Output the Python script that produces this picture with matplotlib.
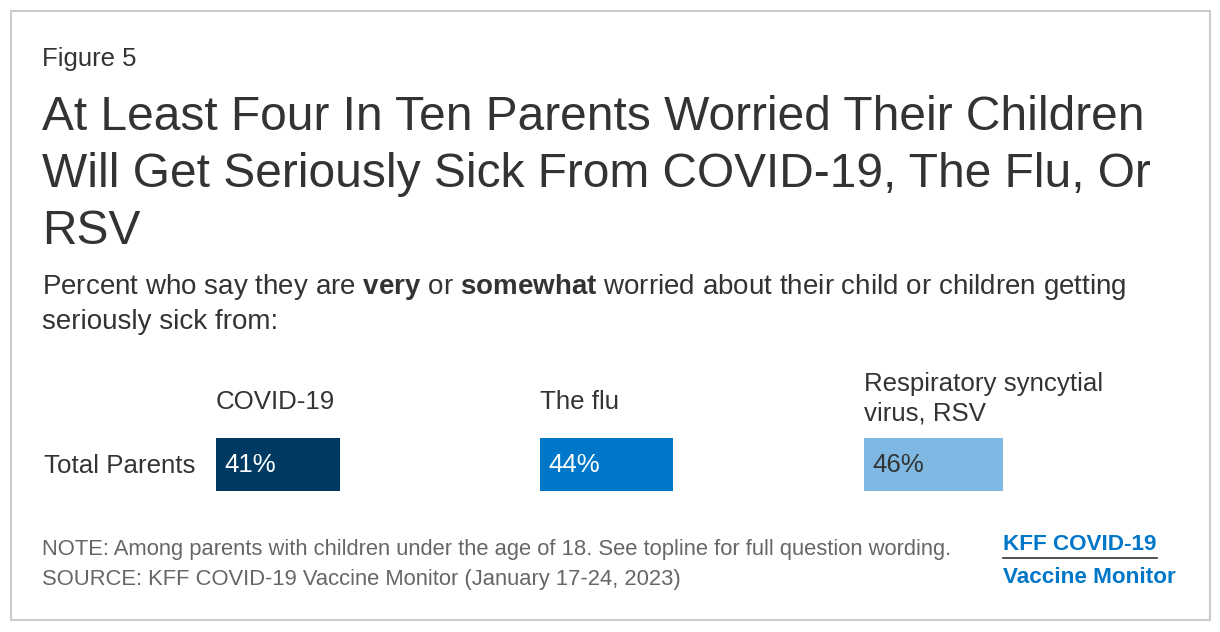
"""
KFF Figure 5: parents worried about children getting seriously sick
"""
import matplotlib
matplotlib.use('Agg')
import matplotlib.pyplot as plt
from matplotlib.patches import Rectangle

plt.rcParams['font.family'] = ['Liberation Sans', 'DejaVu Sans']
plt.rcParams['mathtext.fontset'] = 'custom'
plt.rcParams['mathtext.rm'] = 'Liberation Sans'
plt.rcParams['mathtext.bf'] = 'Liberation Sans:bold'

# 数据
categories = ["COVID-19", "The flu", "Respiratory syncytial\nvirus, RSV"]
values = [41, 44, 46]
row_label = "Total Parents"
bar_colors = ["#003A63", "#0077C8", "#7FB9E3"]
label_colors = ["white", "white", "#333333"]

W, H = 1220, 632
fig = plt.figure(figsize=(W / 100, H / 100), dpi=100)
fig.patch.set_facecolor("white")


def px(x, y):
    return x / W, 1 - y / H


def txt(x, y, s, **kw):
    fx, fy = px(x, y)
    kw.setdefault("va", "baseline")
    kw.setdefault("color", "#333333")
    return fig.text(fx, fy, s, **kw)


# 外框
fig.add_artist(Rectangle(px(11, 620), 1199 / W, 609 / H, transform=fig.transFigure,
                         fill=False, edgecolor="#cccccc", linewidth=1.5))

txt(42, 66, "Figure 5", fontsize=18.5)
title_lines = ["At Least Four In Ten Parents Worried Their Children",
               "Will Get Seriously Sick From COVID-19, The Flu, Or",
               "RSV"]
for i, line in enumerate(title_lines):
    txt(42, 130 + i * 57, line, fontsize=34.5)

txt(42, 294, r"Percent who say they are $\mathbf{very}$ or $\mathbf{somewhat}$ worried about their child or children getting",
    fontsize=20)
txt(42, 329, "seriously sick from:", fontsize=20)

# 条形
panel_x = [216, 540, 864]
bar_top, bar_bot = 438, 491
scale_px = 303  # 100% 对应像素
txt(44, 473, row_label, fontsize=18.6)

for i, (cat, val) in enumerate(zip(categories, values)):
    left, bottom = px(panel_x[i], bar_bot)
    ax = fig.add_axes([left, bottom, scale_px / W, (bar_bot - bar_top) / H])
    ax.barh([0], [val], height=1.0, left=0, color=bar_colors[i])
    ax.set_xlim(0, 100)
    ax.set_ylim(-0.5, 0.5)
    ax.axis("off")
    ax.text(2.7, 0, f"{val}%", color=label_colors[i], fontsize=18.6,
            va="center", ha="left")
    lines = cat.split("\n")
    if len(lines) == 1:
        txt(panel_x[i], 409, lines[0], fontsize=18.6)
    else:
        txt(panel_x[i], 391, lines[0], fontsize=18.6)
        txt(panel_x[i], 421, lines[1], fontsize=18.6)

# 注释
txt(42, 555, "NOTE: Among parents with children under the age of 18. See topline for full question wording.",
    fontsize=15.8, color="#666666")
txt(42, 585, "SOURCE: KFF COVID-19 Vaccine Monitor (January 17-24, 2023)",
    fontsize=15.8, color="#666666")

# 标志
txt(1003, 550, "KFF COVID-19", fontsize=16.2, fontweight="bold", color="#0077C8")
fig.add_artist(plt.Line2D([1003 / W, 1157 / W], [1 - 558 / H, 1 - 558 / H],
                          transform=fig.transFigure, color="#333333", linewidth=1.2))
txt(1003, 583, "Vaccine Monitor", fontsize=16.2, fontweight="bold", color="#0077C8")

plt.savefig("out.png", dpi=100)
plt.close()
